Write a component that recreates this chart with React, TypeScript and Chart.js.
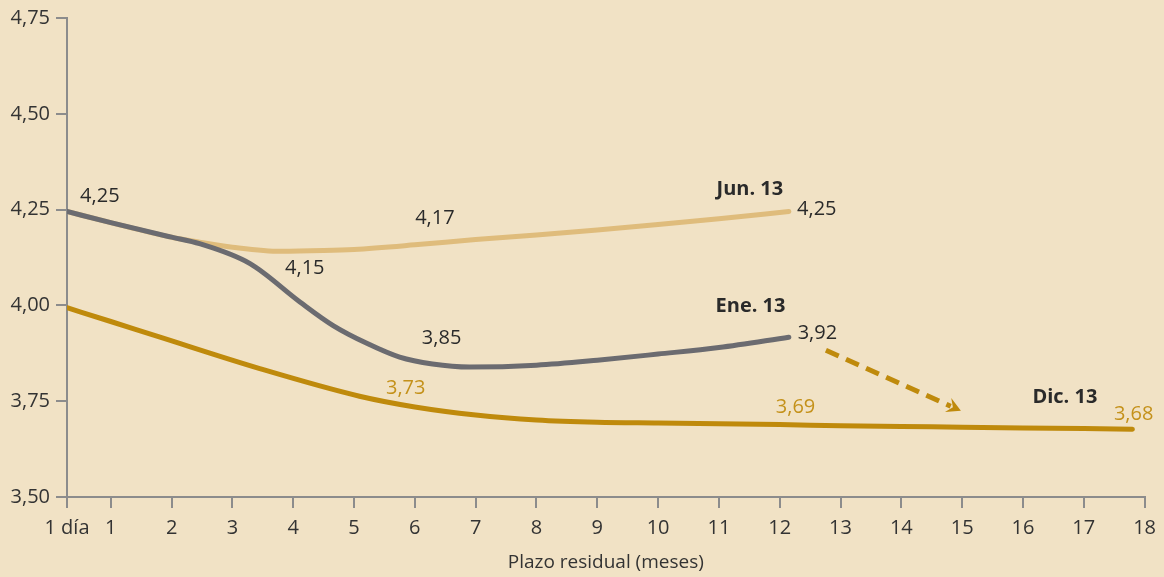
import React, { useEffect, useRef } from "react";
import { Chart, registerables } from "chart.js";

Chart.register(...registerables);

// x positions in months ("1 día" placed at the start of the axis)
const DAY_POS = 0.28;
const xTicks = [DAY_POS, 1, 2, 3, 4, 5, 6, 7, 8, 9, 10, 11, 12, 13, 14, 15, 16, 17, 18];
const yTicks = [3.5, 3.75, 4.0, 4.25, 4.5, 4.75];

const junX = [0.28, 1, 2, 2.46, 3, 3.8, 4.5, 5, 6, 7, 8, 9, 10, 11, 12.15];
const junY = [4.245, 4.216, 4.178, 4.165, 4.152, 4.141, 4.143, 4.146, 4.158, 4.172, 4.184, 4.197, 4.211, 4.226, 4.245];

const eneX = [0.28, 1, 2, 2.46, 3.29, 4.11, 4.65, 5.21, 5.75, 6.29, 6.9, 8, 9, 10, 11, 12.15];
const eneY = [4.245, 4.216, 4.178, 4.161, 4.109, 4.009, 3.948, 3.901, 3.865, 3.847, 3.839, 3.844, 3.857, 3.873, 3.89, 3.917];

const dicX = [0.28, 1, 1.81, 3.45, 5.09, 6, 7, 8, 9, 10, 11, 12, 13, 14, 15, 16, 17, 17.8];
const dicY = [3.994, 3.958, 3.917, 3.835, 3.763, 3.735, 3.714, 3.701, 3.695, 3.693, 3.691, 3.689, 3.686, 3.684, 3.682, 3.68, 3.679, 3.677];

// annotation texts and their anchors (data units)
const labelTexts = ["4,25", "4,17", "4,25", "Jun. 13", "4,15", "3,85", "3,92", "Ene. 13", "3,73", "3,69", "3,68", "Dic. 13"];
const labelX = [0.82, 6.33, 12.61, 11.51, 4.19, 6.44, 12.62, 11.52, 5.85, 12.26, 17.82, 16.69];
const labelY = [4.284, 4.227, 4.25, 4.302, 4.096, 3.914, 3.927, 3.997, 3.784, 3.734, 3.716, 3.76];
const labelKind = ["v", "v", "v", "name", "v", "v", "v", "name", "g", "g", "g", "name"];

const arrowFrom = [12.76, 3.883];
const arrowTo = [14.98, 3.725];

const BG = "#F1E2C5";
const DARK = "#2a2a2a";
const GOLD = "#BF8A0C";
const GOLD_TXT = "#C4911A";
const TAN = "#DFBC7C";
const GREY = "#6B6B70";
const AXIS = "#8c8c8c";
const FONT = "'Open Sans', 'Noto Sans', sans-serif";

const toPts = (xs: number[], ys: number[]) => xs.map((x, i) => ({ x, y: ys[i] }));

const fmt = (v: number) => v.toFixed(2).replace(".", ",");

export default function App() {
  const ref = useRef<HTMLCanvasElement | null>(null);

  useEffect(() => {
    document.body.style.margin = "0";
    document.body.style.background = BG;
    const canvas = ref.current!;

    const bgPlugin = {
      id: "bg",
      beforeDraw(chart: any) {
        const c = chart.ctx;
        c.save();
        c.fillStyle = BG;
        c.fillRect(0, 0, chart.width, chart.height);
        c.restore();
      },
    };

    const annPlugin = {
      id: "ann",
      afterDatasetsDraw(chart: any) {
        const c = chart.ctx;
        const xs = chart.scales.x;
        const ys = chart.scales.y;
        c.save();
        c.textAlign = "center";
        c.textBaseline = "middle";
        labelTexts.forEach((t, i) => {
          const k = labelKind[i];
          if (k === "name") {
            c.font = `bold 20px ${FONT}`;
            c.fillStyle = DARK;
          } else {
            c.font = `20px ${FONT}`;
            c.fillStyle = k === "g" ? GOLD_TXT : DARK;
          }
          c.fillText(t, xs.getPixelForValue(labelX[i]), ys.getPixelForValue(labelY[i]));
        });
        // dashed arrow
        const x1 = xs.getPixelForValue(arrowFrom[0]);
        const y1 = ys.getPixelForValue(arrowFrom[1]);
        const x2 = xs.getPixelForValue(arrowTo[0]);
        const y2 = ys.getPixelForValue(arrowTo[1]);
        const ang = Math.atan2(y2 - y1, x2 - x1);
        const headLen = 16;
        const sx = x2 - Math.cos(ang) * headLen * 0.7;
        const sy = y2 - Math.sin(ang) * headLen * 0.7;
        c.strokeStyle = GOLD;
        c.lineWidth = 5;
        c.setLineDash([14, 8]);
        c.beginPath();
        c.moveTo(x1, y1);
        c.lineTo(sx, sy);
        c.stroke();
        c.setLineDash([]);
        c.fillStyle = GOLD;
        c.beginPath();
        c.moveTo(x2, y2);
        c.lineTo(x2 - headLen * Math.cos(ang - 0.5), y2 - headLen * Math.sin(ang - 0.5));
        c.lineTo(x2 - headLen * 0.55 * Math.cos(ang), y2 - headLen * 0.55 * Math.sin(ang));
        c.lineTo(x2 - headLen * Math.cos(ang + 0.5), y2 - headLen * Math.sin(ang + 0.5));
        c.closePath();
        c.fill();
        c.restore();
      },
    };

    const lineDs = (data: any, color: string, order: number) => ({
      data,
      borderColor: color,
      backgroundColor: color,
      borderWidth: 5,
      borderCapStyle: "round",
      borderJoinStyle: "round",
      pointRadius: 0,
      cubicInterpolationMode: "monotone",
      fill: false,
      order,
    });

    const chart = new Chart(canvas, {
      type: "line",
      data: {
        datasets: [
          lineDs(toPts(eneX, eneY), GREY, 0),
          lineDs(toPts(junX, junY), TAN, 1),
          lineDs(toPts(dicX, dicY), GOLD, 2),
        ] as any,
      },
      options: {
        animation: false,
        responsive: false,
        devicePixelRatio: 1,
        layout: { padding: { left: 0, right: 19, top: 17, bottom: 0 } },
        plugins: { legend: { display: false }, tooltip: { enabled: false } },
        scales: {
          x: {
            type: "linear",
            min: DAY_POS,
            max: 18,
            afterBuildTicks(scale: any) {
              scale.ticks = xTicks.map((v) => ({ value: v }));
            },
            afterFit(scale: any) {
              scale.height = 80;
            },
            ticks: {
              autoSkip: false,
              maxRotation: 0,
              padding: 8,
              color: "#333",
              font: { family: FONT, size: 20 },
              callback: (v: any) => (Math.abs(Number(v) - DAY_POS) < 1e-6 ? "1 día" : String(v)),
            },
            grid: { drawOnChartArea: false, drawTicks: true, tickLength: 11, color: AXIS, lineWidth: 2 },
            border: { color: AXIS, width: 2 },
            title: {
              display: true,
              text: "Plazo residual (meses)",
              color: "#333",
              font: { family: FONT, size: 19 },
              padding: { top: 4, bottom: 3 },
            },
          },
          y: {
            type: "linear",
            min: 3.5,
            max: 4.75,
            afterBuildTicks(scale: any) {
              scale.ticks = yTicks.map((v) => ({ value: v }));
            },
            afterFit(scale: any) {
              scale.width = 67;
            },
            ticks: {
              padding: 6,
              color: "#333",
              font: { family: FONT, size: 20 },
              callback: (v: any) => fmt(Number(v)),
            },
            grid: { drawOnChartArea: false, drawTicks: true, tickLength: 11, color: AXIS, lineWidth: 2 },
            border: { color: AXIS, width: 2 },
          },
        },
      } as any,
      plugins: [bgPlugin, annPlugin],
    });
    return () => chart.destroy();
  }, []);

  return (
    <div style={{ width: 1164, height: 577, background: BG }}>
      <canvas ref={ref} width={1164} height={577} style={{ display: "block" }} />
    </div>
  );
}
